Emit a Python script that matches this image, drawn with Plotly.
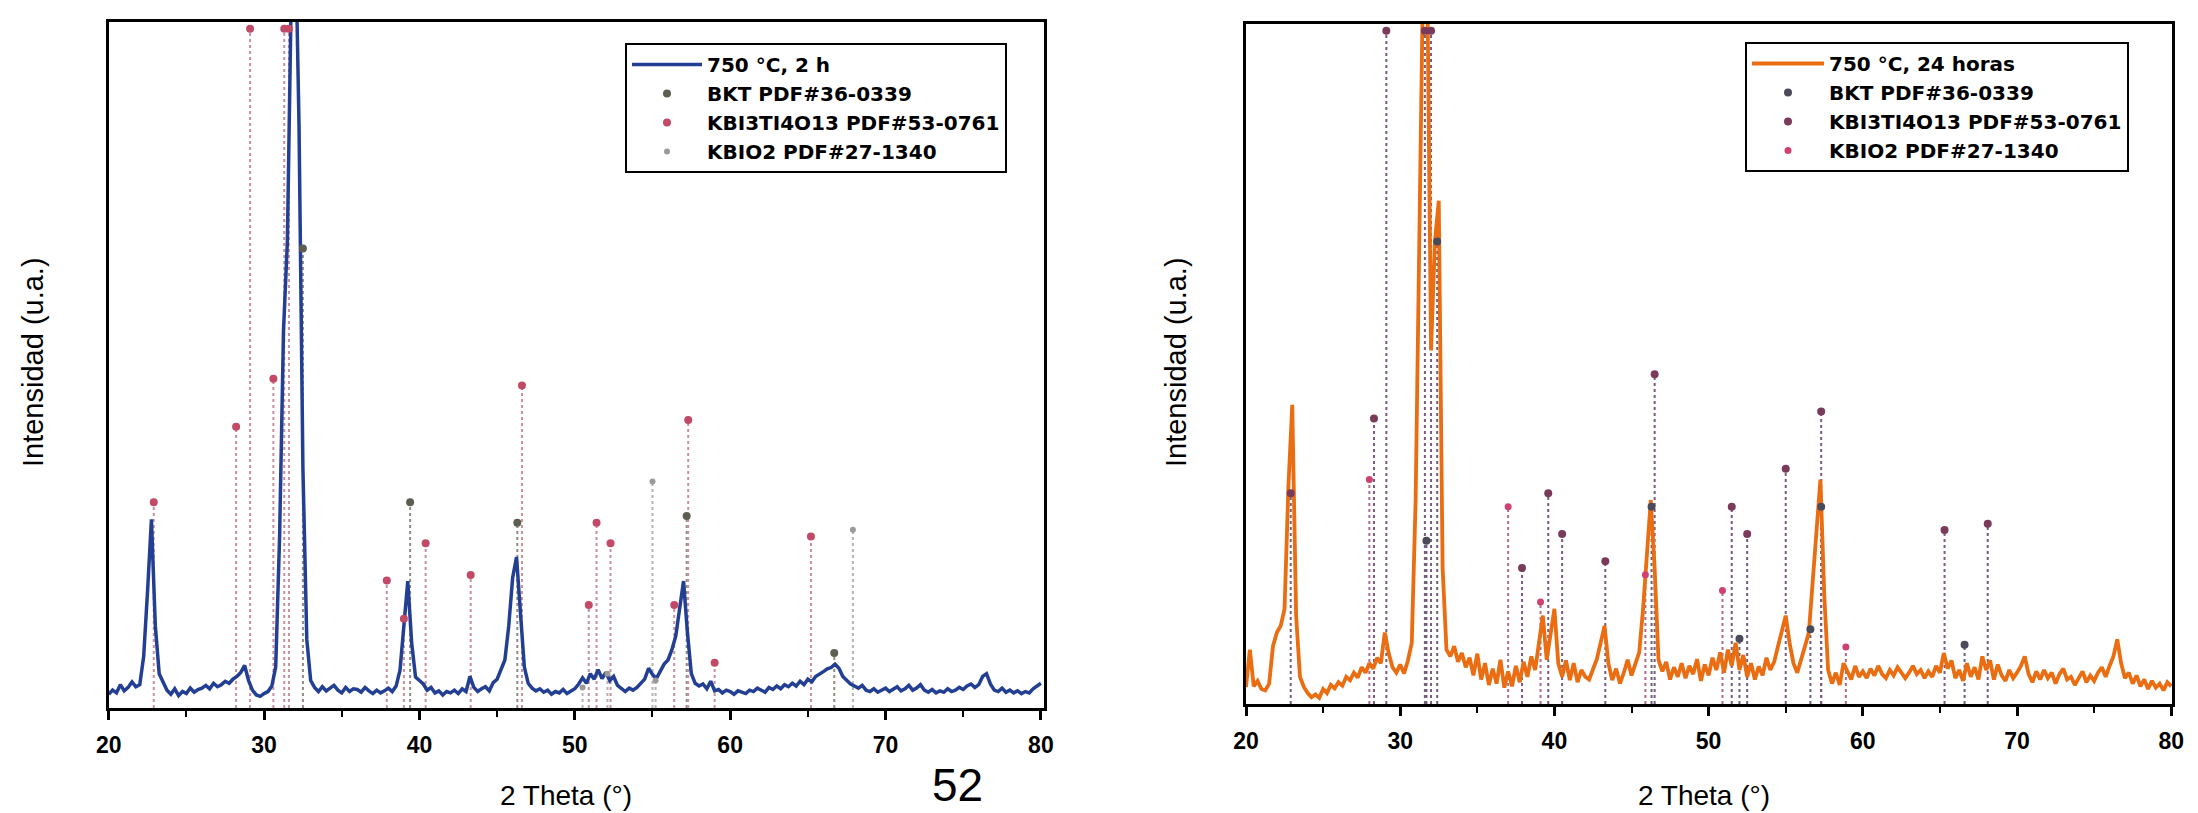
import plotly.graph_objects as go

# ---------------- data ----------------
two_theta = [20 + 0.25 * i for i in range(241)]

# 750 °C, 2 h  (arbitrary units, 0-100 = frame height)
int_2h = [
    2.0, 2.6, 2.2, 3.4, 2.5, 3.0, 3.8, 3.1,
    3.4, 7.5, 17.0, 27.5, 12.0, 5.0, 3.8, 2.6,
    2.0, 2.8, 1.8, 2.4, 2.1, 2.9, 2.3, 2.7,
    2.9, 3.3, 2.8, 3.6, 3.1, 3.4, 3.9, 3.6,
    4.2, 4.6, 5.2, 6.2, 4.0, 2.6, 1.9, 1.7,
    2.1, 2.4, 3.2, 6.0, 25.0, 55.0, 68.0, 104.0,
    115.0, 85.0, 35.0, 10.0, 4.0, 3.0, 2.4, 3.1,
    2.5, 2.9, 3.3, 2.6, 2.2, 3.0, 2.4, 2.8,
    2.7, 2.3, 3.0, 2.5, 2.1, 2.6, 2.2, 2.5,
    2.9, 2.4, 3.2, 5.5, 12.0, 18.5, 9.5, 4.5,
    4.0, 3.5, 2.6, 3.0, 2.2, 2.5, 1.9, 2.4,
    2.2, 2.6, 2.1, 2.8, 2.4, 4.6, 3.0, 2.4,
    2.8, 3.1, 2.5, 3.7, 4.2, 5.5, 7.0, 12.0,
    19.0, 22.0, 14.0, 6.0, 3.6, 2.9, 2.5, 2.8,
    2.3, 2.6, 2.0, 2.4, 2.2, 2.7, 2.1, 2.5,
    2.8, 3.5, 4.4, 3.6, 5.0, 4.2, 5.6, 4.3,
    5.2, 4.0, 4.6, 3.3, 2.8, 2.4, 2.9, 2.6,
    3.0, 3.6, 4.2, 5.8, 4.9, 4.3, 5.3, 6.4,
    7.0, 8.5, 10.5, 15.0, 18.5, 11.0, 5.0, 3.6,
    3.2, 3.5, 2.8, 3.9, 2.5, 2.7, 2.2, 2.6,
    2.4, 2.0, 2.5, 2.3, 2.1, 2.6, 2.4, 2.9,
    2.6, 2.3, 3.0, 2.7, 3.2, 2.8, 3.4, 3.1,
    3.6, 3.2, 3.9, 3.4, 4.2, 3.8, 4.6, 4.9,
    5.3, 5.7, 5.9, 6.4, 5.8, 4.6, 4.0, 3.5,
    3.2, 2.9, 3.3, 2.6, 2.4, 2.8, 2.3, 2.6,
    2.9, 2.4, 2.7, 3.1, 2.5, 2.8, 3.3, 2.6,
    2.9, 3.4, 2.6, 2.3, 2.7, 2.2, 2.5, 2.3,
    2.8, 2.4, 2.6, 3.0, 2.7, 3.2, 3.5, 3.0,
    3.4, 4.6, 5.0, 3.5, 2.6, 2.4, 2.9, 2.3,
    2.6, 2.2, 2.5, 2.1, 2.4, 2.2, 2.8, 3.2,
    3.6,
]

# 750 °C, 24 horas
int_24h = [
    2.5, 8.0, 2.6, 3.4, 2.2, 2.0, 3.0, 8.5,
    10.5, 11.5, 14.0, 32.0, 44.0, 13.0, 4.0, 2.5,
    1.6, 1.0, 1.4, 0.9, 2.2, 1.6, 2.8, 2.3,
    3.2, 2.7, 4.0, 3.5, 4.6, 3.9, 5.4, 4.6,
    6.0, 5.2, 6.8, 6.0, 10.5, 7.5, 5.4, 4.6,
    5.8, 4.5, 6.4, 9.0, 30.0, 70.0, 110.0, 108.0,
    52.0, 68.0, 74.0, 20.0, 8.0, 7.0, 8.5, 6.2,
    7.5, 5.4, 6.8, 4.2, 7.4, 3.6, 6.0, 2.8,
    5.2, 3.0, 6.5, 2.4, 4.8, 2.6, 5.6, 3.2,
    6.2, 4.0, 7.0, 5.0, 9.0, 13.0, 6.5, 10.0,
    14.0, 6.0, 4.0, 6.4, 3.5, 6.0, 3.2, 5.0,
    4.0, 3.6, 5.2, 6.6, 9.0, 11.5, 6.0, 3.5,
    5.2, 3.0, 4.6, 6.5, 4.2, 6.0, 7.6, 14.0,
    22.0, 30.0, 20.0, 6.5, 4.8, 6.2, 3.6, 5.4,
    4.0, 6.0, 3.8, 5.6, 4.4, 6.6, 3.4, 5.8,
    4.2, 6.8, 5.0, 7.6, 4.6, 8.0, 5.6, 9.0,
    5.0, 7.2, 4.0, 6.0, 3.6, 5.5, 4.2, 6.8,
    5.0, 6.2, 8.5, 10.5, 13.0, 9.0, 6.0, 4.6,
    6.4, 8.5, 10.5, 18.0, 27.0, 33.0, 16.0, 5.0,
    3.0, 4.6, 2.8, 6.0, 4.8, 3.6, 5.6, 4.0,
    4.8, 3.8, 5.2, 4.2, 5.6, 4.4, 3.8, 5.0,
    4.2, 5.4, 4.6, 3.8, 4.6, 5.6, 4.4, 5.0,
    3.8, 4.8, 4.0, 5.6, 4.6, 7.5, 5.2, 6.4,
    3.8, 5.0, 3.4, 6.0, 4.0, 5.4, 3.6, 7.0,
    5.0, 6.4, 3.6, 5.8, 4.2, 3.4, 5.0, 3.8,
    4.6, 5.6, 7.0, 4.4, 3.2, 4.8, 3.6, 5.0,
    3.8, 4.6, 3.0, 4.4, 5.2, 3.6, 4.0, 2.8,
    3.8, 4.8, 3.2, 4.2, 3.4, 4.6, 5.4, 4.0,
    5.6, 7.0, 9.5, 6.0, 3.8, 4.6, 3.0, 4.2,
    2.6, 3.6, 2.2, 3.4, 2.4, 3.0, 2.0, 3.2,
    2.6,
]

# reference patterns, left panel (position, relative height)
bkt_2h_pos = [32.5, 39.4, 46.3, 57.2, 66.7]
bkt_2h_h = [67, 30, 27, 28, 8]
kbt_2h_pos = [22.9, 28.2, 29.1, 30.6, 31.3, 31.6, 37.9, 39.0, 40.4, 43.3,
              46.6, 50.9, 51.4, 52.3, 56.4, 57.3, 59.0, 65.2]
kbt_2h_h = [30, 41, 99, 48, 99, 99, 18.6, 13, 24, 19.4,
            47, 15, 27, 24, 15, 42, 6.6, 25]
kbo_2h_pos = [50.5, 52.1, 55.0, 55.2, 67.9]
kbo_2h_h = [3, 5, 33, 4, 26]

# reference patterns, right panel
bkt_24h_pos = [31.7, 32.4, 46.3, 52.0, 56.6, 57.3, 66.6]
bkt_24h_h = [24, 68, 29, 9.6, 11, 29, 8.7]
kbt_24h_pos = [22.9, 28.3, 29.1, 31.6, 32.0, 37.9, 39.6, 40.5, 43.3, 46.5,
               51.5, 52.5, 55.0, 57.3, 65.3, 68.1]
kbt_24h_h = [31, 42, 99, 99, 99, 20, 31, 25, 21, 48.5,
             29, 25, 34.6, 43, 25.6, 26.5]
kbo_24h_pos = [28.0, 37.0, 39.1, 45.9, 50.9, 58.9]
kbo_24h_h = [33, 29, 15, 19, 16.7, 8.4]

legend_names_2h = ["750 °C, 2 h", "BKT PDF#36-0339", "KBI3TI4O13 PDF#53-0761", "KBIO2 PDF#27-1340"]
legend_names_24h = ["750 °C, 24 horas", "BKT PDF#36-0339", "KBI3TI4O13 PDF#53-0761", "KBIO2 PDF#27-1340"]
x_ticks = [20, 30, 40, 50, 60, 70, 80]

# ---------------- figure ----------------
W, H = 2198, 813
fig = go.Figure()


def stems(pos, h):
    xs, ys = [], []
    for p, v in zip(pos, h):
        xs += [p, p, None]
        ys += [0, v, None]
    return xs, ys


def add_panel(xa, ya, curve, curve_color, curve_width, names, legend, phases):
    for pos, h, stem_col, _mc, _ms in phases:
        sx, sy = stems(pos, h)
        fig.add_trace(go.Scatter(x=sx, y=sy, mode="lines", xaxis=xa, yaxis=ya,
                                 line=dict(color=stem_col, width=2, dash="dot"),
                                 showlegend=False, hoverinfo="skip"))
    fig.add_trace(go.Scatter(x=two_theta, y=curve, mode="lines", name=names[0],
                             xaxis=xa, yaxis=ya, legend=legend,
                             line=dict(color=curve_color, width=curve_width)))
    for (pos, h, _sc, mcol, msize), nm in zip(phases, names[1:]):
        fig.add_trace(go.Scatter(x=pos, y=h, mode="markers", name=nm,
                                 xaxis=xa, yaxis=ya, legend=legend,
                                 marker=dict(color=mcol, size=msize, symbol="circle")))


add_panel("x", "y", int_2h, "#233f93", 3.5, legend_names_2h, "legend", [
    (bkt_2h_pos, bkt_2h_h, "#8c8c80", "#5e5e50", 8),
    (kbt_2h_pos, kbt_2h_h, "#c8909c", "#c24a66", 8),
    (kbo_2h_pos, kbo_2h_h, "#b4b4b4", "#9a9a9a", 6),
])
add_panel("x2", "y2", int_24h, "#ea6d12", 3.8, legend_names_24h, "legend2", [
    (bkt_24h_pos, bkt_24h_h, "#6a6078", "#4a4a5a", 8),
    (kbt_24h_pos, kbt_24h_h, "#7a5a80", "#7a3a5a", 8),
    (kbo_24h_pos, kbo_24h_h, "#b06a8a", "#d04070", 7),
])

tickfont = dict(family="Liberation Sans Narrow, Liberation Sans, Arial", size=23,
                color="black", weight="bold")
xcommon = dict(tickvals=x_ticks, ticks="outside", ticklen=9, tickwidth=2.5,
               tickcolor="black", showline=True, linecolor="black", linewidth=2.5,
               mirror=True, showgrid=False, zeroline=False, tickfont=tickfont,
               ticklabelstandoff=6, automargin=False,
               minor=dict(dtick=5, ticks="outside", ticklen=6, tickwidth=2, tickcolor="black"))
ycommon = dict(range=[0, 100], showticklabels=False, ticks="", showline=True,
               linecolor="black", linewidth=2.5, mirror=True, showgrid=False,
               zeroline=False, automargin=False)

legend_common = dict(bgcolor="white", bordercolor="black", borderwidth=2,
                     font=dict(family="DejaVu Sans", size=20, color="black", weight="bold"),
                     xanchor="left", yanchor="top", tracegroupgap=0)

fig.update_layout(
    width=W, height=H,
    margin=dict(l=0, r=0, t=0, b=0),
    paper_bgcolor="white", plot_bgcolor="white",
    xaxis=dict(domain=[108.7 / W, 1044 / W], range=[20, 80.2], anchor="y", **xcommon),
    yaxis=dict(domain=[1 - 708 / H, 1 - 22 / H], anchor="x", **ycommon),
    xaxis2=dict(domain=[1246 / W, 2172 / W], range=[20, 80.05], anchor="y2", **xcommon),
    yaxis2=dict(domain=[1 - 704 / H, 1 - 24 / H], anchor="x2", **ycommon),
    legend=dict(x=625 / W, y=1 - 43 / H, itemwidth=70, **legend_common),
    legend2=dict(x=1745 / W, y=1 - 42 / H, itemwidth=72, **legend_common),
    showlegend=True,
)

title_font = dict(family="Liberation Sans, Arial", size=28, color="black")
yt_font = dict(family="Liberation Sans, Arial", size=29, color="black")
fig.add_annotation(text="2 Theta (°)", x=566 / W, y=0, yanchor="bottom", font=title_font)
fig.add_annotation(text="2 Theta (°)", x=1704 / W, y=0, yanchor="bottom", font=title_font)
fig.add_annotation(text="Intensidad (u.a.)", x=33 / W, y=1 - 362 / H, textangle=-90,
                   yanchor="middle", font=yt_font)
fig.add_annotation(text="Intensidad (u.a.)", x=1176 / W, y=1 - 362 / H, textangle=-90,
                   yanchor="middle", font=yt_font)
fig.update_annotations(xref="paper", yref="paper", showarrow=False, xanchor="center")
fig.add_annotation(text="52", xref="paper", yref="paper", x=957 / W, y=0,
                   showarrow=False, xanchor="center", yanchor="bottom",
                   font=dict(family="Liberation Sans, Arial", size=46, color="black"))

fig.write_html("out.html", config={"displayModeBar": False},
               post_script="document.body.style.margin='0';document.body.style.overflow='hidden';")
